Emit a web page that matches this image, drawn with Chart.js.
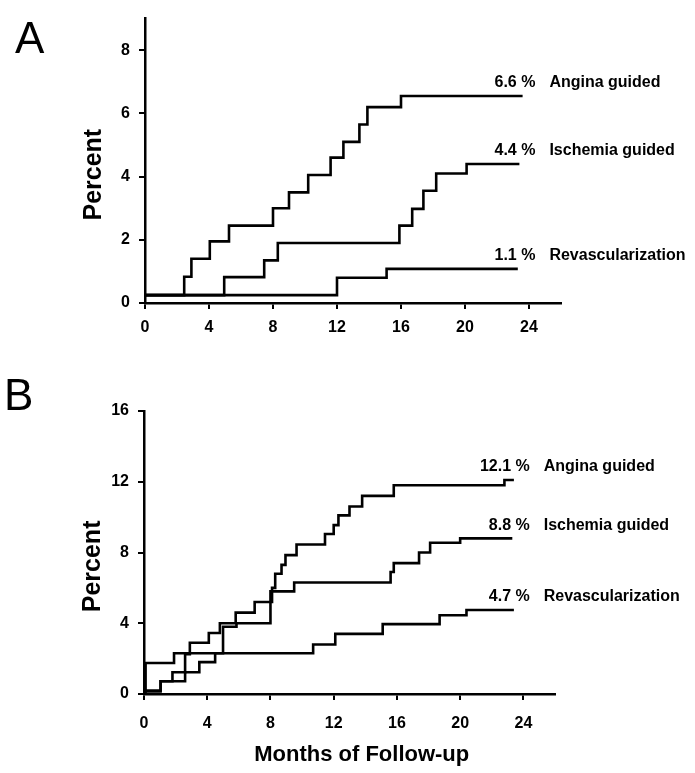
<!DOCTYPE html>
<html>
<head>
<meta charset="utf-8">
<script src="https://cdn.jsdelivr.net/npm/chart.js@4/dist/chart.umd.min.js"></script>
<style>
html,body{margin:0;padding:0;background:#fff;}
#wrap{position:relative;width:695px;height:773px;overflow:hidden;}
.panel{position:absolute;left:0;}
#pa{top:0;}
#pb{top:370px;}
canvas{display:block;}
</style>
</head>
<body>
<div id="wrap">
  <div class="panel" id="pa"><canvas id="ca" width="695" height="370"></canvas></div>
  <div class="panel" id="pb"><canvas id="cb" width="695" height="403"></canvas></div>
</div>
<script>
// ---- data ----
const monthTicks = [0, 4, 8, 12, 16, 20, 24];
const percentTicksA = [0, 2, 4, 6, 8];
const percentTicksB = [0, 4, 8, 12, 16];
const seriesNames = ['Angina guided', 'Ischemia guided', 'Revascularization'];
const finalLabelsA = ['6.6 %', '4.4 %', '1.1 %'];
const finalLabelsB = ['12.1 %', '8.8 %', '4.7 %'];
const panelLetters = ['A', 'B'];
const xTitle = 'Months of Follow-up';
const yTitle = 'Percent';

// Panel A
const aAnginaMonths = [0, 2.45, 2.9, 4.05, 5.25, 8.0, 9.0, 10.2, 11.6, 12.4, 13.4, 13.9, 16.0, 23.6];
const aAnginaPct    = [0.25, 0.83, 1.4, 1.95, 2.45, 3.0, 3.5, 4.05, 4.6, 5.1, 5.65, 6.2, 6.55, 6.55];
const aIschemiaMonths = [0, 4.95, 7.45, 8.3, 15.9, 16.7, 17.4, 18.2, 20.1, 23.4];
const aIschemiaPct    = [0.25, 0.82, 1.35, 1.9, 2.45, 2.98, 3.55, 4.1, 4.4, 4.4];
const aRevascMonths = [0, 12.0, 15.1, 23.3];
const aRevascPct    = [0.25, 0.8, 1.08, 1.08];

// Panel B
const bAnginaMonths = [0, 1.05, 1.8, 2.6, 2.9, 4.1, 4.8, 5.8, 7.0, 8.1, 8.3, 8.7, 8.95, 9.65, 11.45, 12.0, 12.3, 13.0, 13.8, 15.8, 22.8, 23.4];
const bAnginaPct    = [0.2, 0.72, 1.23, 2.25, 2.9, 3.45, 4.0, 4.6, 5.2, 6.0, 6.8, 7.3, 7.85, 8.45, 9.05, 9.55, 10.1, 10.6, 11.2, 11.8, 12.1, 12.1];
const bIschemiaMonths = [0, 1.05, 2.6, 3.5, 4.5, 5.0, 5.85, 8.0, 9.5, 15.6, 15.8, 17.4, 18.1, 20.0, 23.3];
const bIschemiaPct    = [0.15, 0.72, 1.23, 1.8, 2.3, 3.8, 4.0, 5.8, 6.3, 6.9, 7.4, 8.0, 8.55, 8.8, 8.8];
const bRevascMonths = [0, 0.1, 1.9, 10.7, 12.1, 15.1, 18.7, 20.4, 23.4];
const bRevascPct    = [0.1, 1.75, 2.3, 2.8, 3.4, 3.95, 4.45, 4.75, 4.75];

// ---- fonts ----
const FONT = '"Liberation Sans", Arial, Helvetica, sans-serif';
function fontAvailable(name) {
  const c = document.createElement('canvas').getContext('2d');
  const s = 'Months of Follow-up Percent';
  c.font = 'bold 50px monospace';
  const w1 = c.measureText(s).width;
  c.font = 'bold 50px "' + name + '", monospace';
  const w2 = c.measureText(s).width;
  return Math.abs(w1 - w2) > 0.5;
}
const hasNarrow = fontAvailable('Liberation Sans Narrow');
const TITLE_FONT = hasNarrow ? '"Liberation Sans Narrow", ' + FONT : FONT;
const X_TITLE_SIZE = hasNarrow ? 27 : 22;
const Y_TITLE_SIZE = hasNarrow ? 28 : 25;

// ---- chart construction ----
function pts(months, pct) { return months.map((m, i) => ({ x: m, y: pct[i] })); }

function ds(months, pct) {
  return {
    data: pts(months, pct),
    stepped: 'before',
    borderColor: '#000',
    borderWidth: 2.6,
    pointRadius: 0,
    fill: false,
    tension: 0
  };
}

const endLabelPlugin = {
  id: 'endLabels',
  afterDatasetsDraw(chart, args, opts) {
    const ctx = chart.ctx;
    const xs = chart.scales.x;
    ctx.save();
    ctx.fillStyle = '#000';
    ctx.font = 'bold 16px ' + FONT;
    ctx.textBaseline = 'middle';
    opts.values.forEach((val, i) => {
      const meta = chart.getDatasetMeta(i);
      const last = meta.data[meta.data.length - 1];
      const y = last.y - 13;
      const xr = xs.getPixelForValue(24.4);
      ctx.textAlign = 'right';
      ctx.fillText(val, xr, y);
      ctx.textAlign = 'left';
      ctx.fillText(opts.names[i], xr + 14, y);
    });
    ctx.restore();
  }
};

const letterPlugin = {
  id: 'panelLetter',
  afterDraw(chart, args, opts) {
    const ctx = chart.ctx;
    ctx.save();
    ctx.fillStyle = '#000';
    ctx.font = '44px ' + FONT;
    ctx.textAlign = 'left';
    ctx.textBaseline = 'alphabetic';
    ctx.fillText(opts.text, opts.x, opts.y);
    ctx.restore();
  }
};

function makeChart(canvasId, cfg) {
  return new Chart(document.getElementById(canvasId), {
    type: 'line',
    data: { datasets: cfg.datasets },
    plugins: [endLabelPlugin, letterPlugin],
    options: {
      responsive: false,
      animation: false,
      layout: { padding: cfg.padding },
      plugins: {
        legend: { display: false },
        tooltip: { enabled: false },
        endLabels: { values: cfg.finals, names: seriesNames },
        panelLetter: cfg.letter
      },
      scales: {
        x: {
          type: 'linear',
          min: 0, max: 26,
          afterBuildTicks: s => { s.ticks = monthTicks.map(v => ({ value: v })); },
          afterFit: s => { s.height = cfg.xHeight; },
          ticks: {
            color: '#000', autoSkip: false, maxRotation: 0,
            padding: cfg.xTickPad,
            font: { family: FONT, size: 16, weight: 'bold' }
          },
          grid: { drawOnChartArea: false, drawTicks: true, tickLength: 6, color: '#000', lineWidth: 2 },
          border: { display: true, color: '#000', width: 2.5 },
          title: {
            display: cfg.showXTitle,
            text: '    ' + xTitle,
            color: '#000',
            font: { family: TITLE_FONT, size: X_TITLE_SIZE, weight: 'bold' },
            padding: { top: 0, bottom: 5 }
          }
        },
        y: {
          type: 'linear',
          min: 0, max: cfg.yMax,
          afterBuildTicks: s => { s.ticks = cfg.yTicks.map(v => ({ value: v })); },
          afterFit: s => { s.width = 75; },
          ticks: {
            color: '#000', padding: 9,
            font: { family: FONT, size: 16, weight: 'bold' }
          },
          grid: { drawOnChartArea: false, drawTicks: true, tickLength: 6, color: '#000', lineWidth: 2 },
          border: { display: true, color: '#000', width: 2.5 },
          title: {
            display: true,
            text: yTitle + '    ',
            color: '#000',
            font: { family: TITLE_FONT, size: Y_TITLE_SIZE, weight: 'bold' },
            padding: { top: 9, bottom: 0 }
          }
        }
      }
    }
  });
}

makeChart('ca', {
  datasets: [ds(aAnginaMonths, aAnginaPct), ds(aIschemiaMonths, aIschemiaPct), ds(aRevascMonths, aRevascPct)],
  finals: finalLabelsA,
  padding: { left: 70, top: 10, right: 134, bottom: 0 },
  xHeight: 67,
  xTickPad: 9,
  showXTitle: false,
  yMax: 9,
  yTicks: percentTicksA,
  letter: { text: panelLetters[0], x: 15, y: 53 }
});

makeChart('cb', {
  datasets: [ds(bAnginaMonths, bAnginaPct), ds(bIschemiaMonths, bIschemiaPct), ds(bRevascMonths, bRevascPct)],
  finals: finalLabelsB,
  padding: { left: 69, top: 41, right: 140, bottom: 0 },
  xHeight: 79,
  xTickPad: 14,
  showXTitle: true,
  yMax: 16,
  yTicks: percentTicksB,
  letter: { text: panelLetters[1], x: 4, y: 40 }
});
</script>
</body>
</html>
